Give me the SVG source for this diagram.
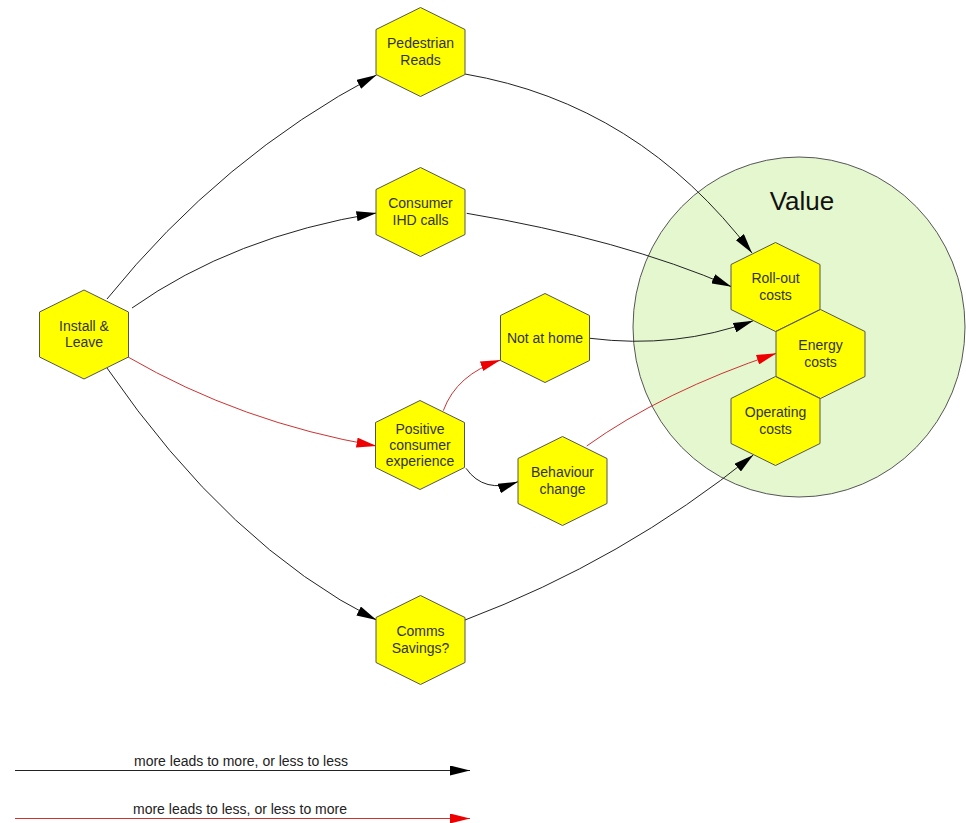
<svg xmlns="http://www.w3.org/2000/svg" width="966" height="823" viewBox="0 0 966 823">
<style>
  .hex { fill: #ffff00; stroke: #555555; stroke-width: 1; }
  .lbl { font-family: "Liberation Sans", Arial, sans-serif; font-size: 14px; fill: #333333; text-anchor: middle; }
  .title { font-family: "Liberation Sans", Arial, sans-serif; font-size: 26px; fill: #111111; text-anchor: middle; }
  .pos { fill: none; stroke: #222222; stroke-width: 1; marker-end: url(#ab); }
  .neg { fill: none; stroke: #cc3333; stroke-width: 1; marker-end: url(#ar); }
  .leg { font-family: "Liberation Sans", Arial, sans-serif; font-size: 14px; fill: #222222; text-anchor: middle; }
</style>
<defs>
  <polygon id="hx" class="hex" points="0,-44.5 44.5,-22.5 44.5,22.5 0,44.5 -44.5,22.5 -44.5,-22.5"/>
  <marker id="ab" markerUnits="userSpaceOnUse" markerWidth="20" markerHeight="10" refX="20" refY="5" orient="auto">
    <path d="M0,0 L20,5 L0,10 z" fill="#000000"/>
  </marker>
  <marker id="ar" markerUnits="userSpaceOnUse" markerWidth="20" markerHeight="10" refX="20" refY="5" orient="auto">
    <path d="M0,0 L20,5 L0,10 z" fill="#ee0000"/>
  </marker>
</defs>
<rect width="966" height="823" fill="#ffffff"/>

<g id="value-area">
  <ellipse cx="799" cy="327" rx="166" ry="170" fill="#e4f7cf" stroke="#555555" stroke-width="1"/>
  <text class="title" x="802" y="210">Value</text>
</g>

<g id="connectors">
  <path class="pos" d="M107,299 Q222,156.5 376.5,75"/>
  <path class="pos" d="M132,308 Q233,236.5 376.5,213"/>
  <path class="neg" d="M128,357 Q240.8,422.5 376.5,446"/>
  <path class="pos" d="M107,368 Q229.3,545.9 376.5,620"/>
  <path class="pos" d="M465,74 Q638.7,103.8 752,253"/>
  <path class="pos" d="M466.7,213.3 Q621.4,239.1 731.5,286.7"/>
  <path class="pos" d="M590,338.3 Q676.4,349.1 753.3,320.7"/>
  <path class="neg" d="M586.7,446 Q662.7,391.5 776.5,353.3"/>
  <path class="pos" d="M465,620 Q623,560.3 753.3,455"/>
  <path class="neg" d="M443.3,410.7 Q456.5,374.5 500.5,360"/>
  <path class="pos" d="M466,468.3 Q484,494 518,481.7"/>
</g>

<g id="install-leave" transform="translate(84,334.5)">
  <use href="#hx"/>
  <text class="lbl" x="0" y="-3.5">Install &amp;</text>
  <text class="lbl" x="0" y="12.5">Leave</text>
</g>
<g id="pedestrian-reads" transform="translate(420.5,52)">
  <use href="#hx"/>
  <text class="lbl" x="0" y="-4">Pedestrian</text>
  <text class="lbl" x="0" y="13">Reads</text>
</g>
<g id="consumer-ihd-calls" transform="translate(420.5,212)">
  <use href="#hx"/>
  <text class="lbl" x="0" y="-4">Consumer</text>
  <text class="lbl" x="0" y="13">IHD calls</text>
</g>
<g id="positive-consumer-experience" transform="translate(420,445)">
  <use href="#hx"/>
  <text class="lbl" x="0" y="-11">Positive</text>
  <text class="lbl" x="0" y="5">consumer</text>
  <text class="lbl" x="0" y="21">experience</text>
</g>
<g id="comms-savings" transform="translate(420.5,640)">
  <use href="#hx"/>
  <text class="lbl" x="0" y="-4">Comms</text>
  <text class="lbl" x="0" y="13">Savings?</text>
</g>
<g id="not-at-home" transform="translate(545,338)">
  <use href="#hx"/>
  <text class="lbl" x="0" y="5">Not at home</text>
</g>
<g id="behaviour-change" transform="translate(562.5,481)">
  <use href="#hx"/>
  <text class="lbl" x="0" y="-4">Behaviour</text>
  <text class="lbl" x="0" y="13">change</text>
</g>
<g id="roll-out-costs" transform="translate(775.5,287)">
  <use href="#hx"/>
  <text class="lbl" x="0" y="-4">Roll-out</text>
  <text class="lbl" x="0" y="13">costs</text>
</g>
<g id="energy-costs" transform="translate(820.5,354)">
  <use href="#hx"/>
  <text class="lbl" x="0" y="-4">Energy</text>
  <text class="lbl" x="0" y="13">costs</text>
</g>
<g id="operating-costs" transform="translate(775.5,421)">
  <use href="#hx"/>
  <text class="lbl" x="0" y="-4">Operating</text>
  <text class="lbl" x="0" y="13">costs</text>
</g>

<g id="legend">
  <text class="leg" x="241" y="765.5">more leads to more, or less to less</text>
  <line class="pos" x1="15" y1="770.5" x2="470" y2="770.5"/>
  <text class="leg" x="240" y="813.5">more leads to less, or less to more</text>
  <line class="neg" x1="15" y1="818.5" x2="470" y2="818.5"/>
</g>
</svg>
